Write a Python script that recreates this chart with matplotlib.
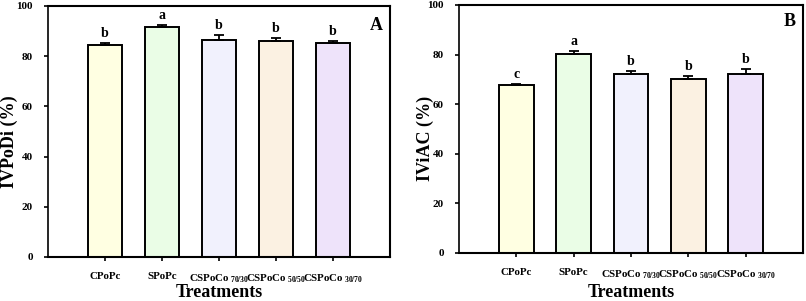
import matplotlib.pyplot as plt
import numpy as np

plt.rcParams["font.family"] = ["Liberation Serif", "DejaVu Serif"]
plt.rcParams["font.weight"] = "bold"
plt.rcParams["mathtext.fontset"] = "custom"
plt.rcParams["mathtext.rm"] = "Liberation Serif:bold"
plt.rcParams["mathtext.default"] = "rm"

treatments = ["CPoPc", "SPoPc", "CSPoCo$\\,_{70/30}$", "CSPoCo$\\,_{50/50}$", "CSPoCo$\\,_{30/70}$"]
colors = ["#FFFFE2", "#EAFDE6", "#F1F1FD", "#FBF1E2", "#EEE3FA"]

ivpodi = [84.5, 91.5, 86.5, 86.0, 85.1]
ivpodi_err = [0.9, 1.0, 1.9, 1.1, 0.9]
ivpodi_letters = ["b", "a", "b", "b", "b"]

iviac = [67.6, 80.4, 72.0, 70.0, 72.0]
iviac_err = [0.4, 0.9, 1.5, 1.2, 2.1]
iviac_letters = ["c", "a", "b", "b", "b"]

fig = plt.figure(figsize=(8.06, 3.01), dpi=100)
axA = fig.add_axes([0.0596, 0.1462, 0.4243, 0.834])
axB = fig.add_axes([0.5695, 0.1595, 0.4268, 0.824])

panels = [
    (axA, ivpodi, ivpodi_err, ivpodi_letters, "IVPoDi (%)", "A", -0.114, 0.458, -0.143, 0.956),
    (axB, iviac, iviac_err, iviac_letters, "IViAC (%)", "B", -0.099, 0.46, -0.161, 0.968),
]

for ax, vals, errs, letters, ylab, tag, ylx, yly, xly, tagy in panels:
    x = np.arange(len(vals))
    ax.bar(x, vals, width=0.6, color=colors, edgecolor="black", linewidth=1.4, zorder=2)
    ax.errorbar(x, vals, yerr=[np.zeros(len(errs)), errs], fmt="none",
                ecolor="black", elinewidth=1.3, capsize=3.5, capthick=1.3, zorder=3)
    for xi, v, e, l in zip(x, vals, errs, letters):
        ax.text(xi, v + e + 1.2, l, ha="center", va="bottom", fontsize=10, fontweight="bold")
    ax.set_xlim(-1, 5)
    ax.set_ylim(0, 100)
    ax.set_yticks([0, 20, 40, 60, 80, 100])
    ax.set_xticks(x)
    ax.set_xticklabels(treatments, fontsize=7.8, fontweight="bold")
    ax.tick_params(axis="y", labelsize=8, length=3, width=1.2, direction="out", pad=8)
    ax.tick_params(axis="x", length=3, width=1.2, direction="out", pad=8)
    for lab in ax.get_yticklabels():
        lab.set_fontweight("bold")
    for s in ax.spines.values():
        s.set_linewidth(1.5)
    ax.spines["left"].set_linewidth(1.2)
    ax.set_ylabel(ylab, fontsize=13, fontweight="bold", va="center")
    ax.yaxis.set_label_coords(ylx, yly)
    ax.set_xlabel("Treatments", fontsize=13, fontweight="bold", va="center")
    ax.xaxis.set_label_coords(0.5, xly)
    ax.text(0.98, tagy, tag, transform=ax.transAxes, ha="right", va="top",
            fontsize=13, fontweight="bold")

fig.savefig("out.png", dpi=100)
